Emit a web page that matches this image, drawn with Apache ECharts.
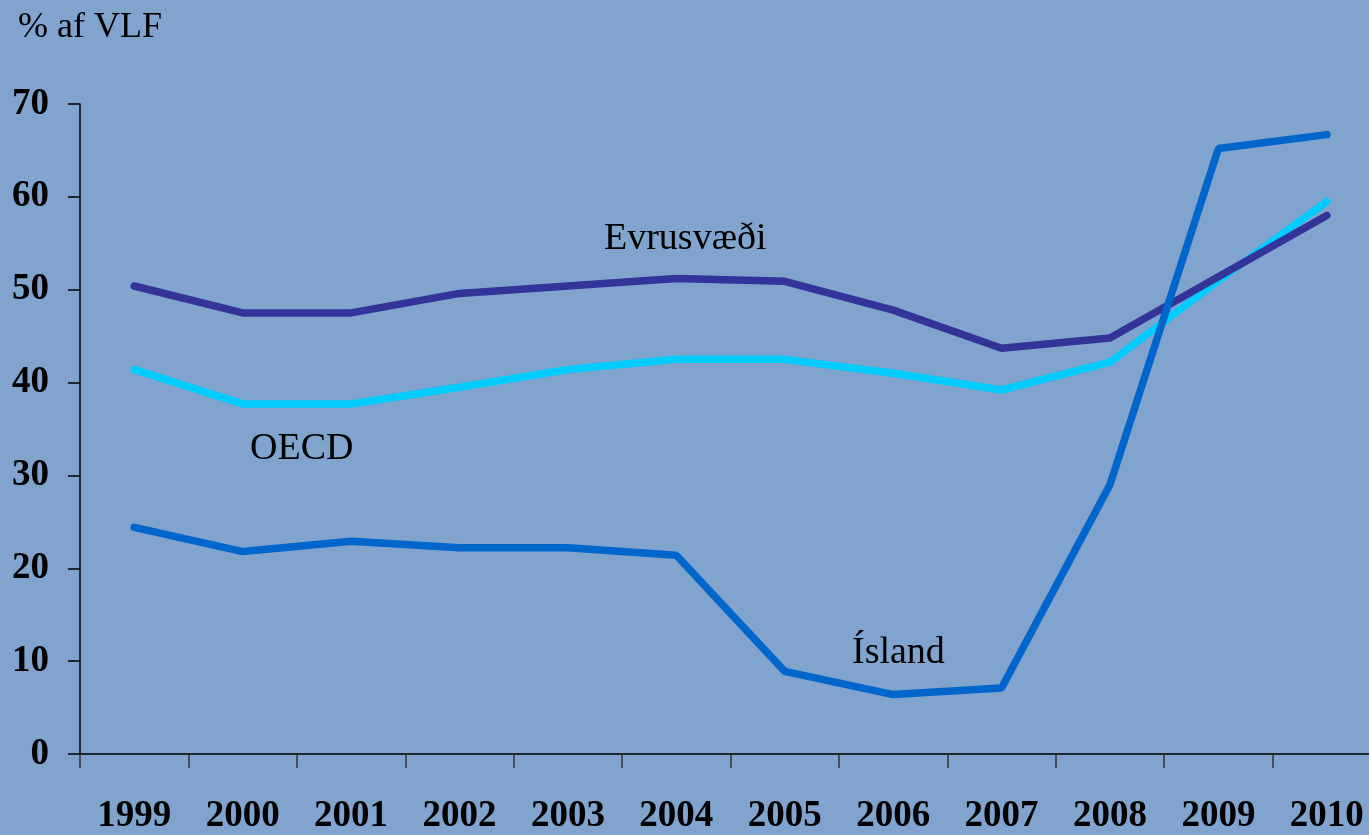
<!DOCTYPE html>
<html>
<head>
<meta charset="utf-8">
<script src="https://cdn.jsdelivr.net/npm/echarts@6/dist/echarts.min.js"></script>
<style>
html, body { margin: 0; padding: 0; background: #80a4ce; overflow: hidden; }
/* plot area runs a little past the right edge, as in the original */
#chart { width: 1381px; height: 835px; }
</style>
</head>
<body>
<div id="chart"></div>
<script>
var years = ['1999', '2000', '2001', '2002', '2003', '2004', '2005', '2006', '2007', '2008', '2009', '2010'];
var island = [24.4, 21.8, 22.9, 22.2, 22.2, 21.4, 8.9, 6.4, 7.1, 29.0, 65.2, 66.7];
var evrusvaedi = [50.4, 47.5, 47.5, 49.6, 50.4, 51.2, 50.9, 47.8, 43.7, 44.8, 51.4, 58.0];
var oecd = [41.4, 37.7, 37.7, 39.5, 41.4, 42.5, 42.5, 41.0, 39.2, 42.2, 51.0, 59.5];

var serif = '"Liberation Serif", "Times New Roman", serif';

var myChart = echarts.init(document.getElementById('chart'));

function lineSeries(name, data, color) {
    return {
        name: name,
        type: 'line',
        data: data,
        symbol: 'none',
        lineStyle: { color: color, width: 7.5, cap: 'round' },
        animation: false
    };
}

var option = {
    backgroundColor: '#80a4ce',
    grid: { left: 80, right: 0, top: 104, bottom: 81 },
    xAxis: {
        type: 'category',
        data: years,
        axisLine: { lineStyle: { color: '#000', width: 1.5 } },
        axisTick: { show: true, interval: 0, length: 14, lineStyle: { color: '#333', width: 1.5 } },
        axisLabel: {
            margin: 44,
            interval: 0,
            color: '#000',
            fontFamily: serif,
            fontWeight: 'bold',
            fontSize: 37
        }
    },
    yAxis: {
        type: 'value',
        min: 0,
        max: 70,
        interval: 10,
        splitLine: { show: false },
        axisLine: { show: true, lineStyle: { color: '#000', width: 1.5 } },
        axisTick: { show: true, length: 12, lineStyle: { color: '#000', width: 1.5 } },
        axisLabel: {
            margin: 31,
            color: '#000',
            fontFamily: serif,
            fontWeight: 'bold',
            fontSize: 37
        }
    },
    graphic: [
        { type: 'text', left: 18, top: 10, style: { text: '% af VLF', font: '36px ' + serif, fill: '#000' } },
        { type: 'text', left: 604, top: 220, style: { text: 'Evrusvæði', font: '38px ' + serif, fill: '#000' } },
        { type: 'text', left: 250, top: 430, style: { text: 'OECD', font: '38px ' + serif, fill: '#000' } },
        { type: 'text', left: 852, top: 634, style: { text: 'Ísland', font: '38px ' + serif, fill: '#000' } }
    ],
    series: [
        lineSeries('OECD', oecd, '#00ccff'),
        lineSeries('Evrusvæði', evrusvaedi, '#333399'),
        lineSeries('Ísland', island, '#0066cc')
    ]
};
myChart.setOption(option);
</script>
</body>
</html>
